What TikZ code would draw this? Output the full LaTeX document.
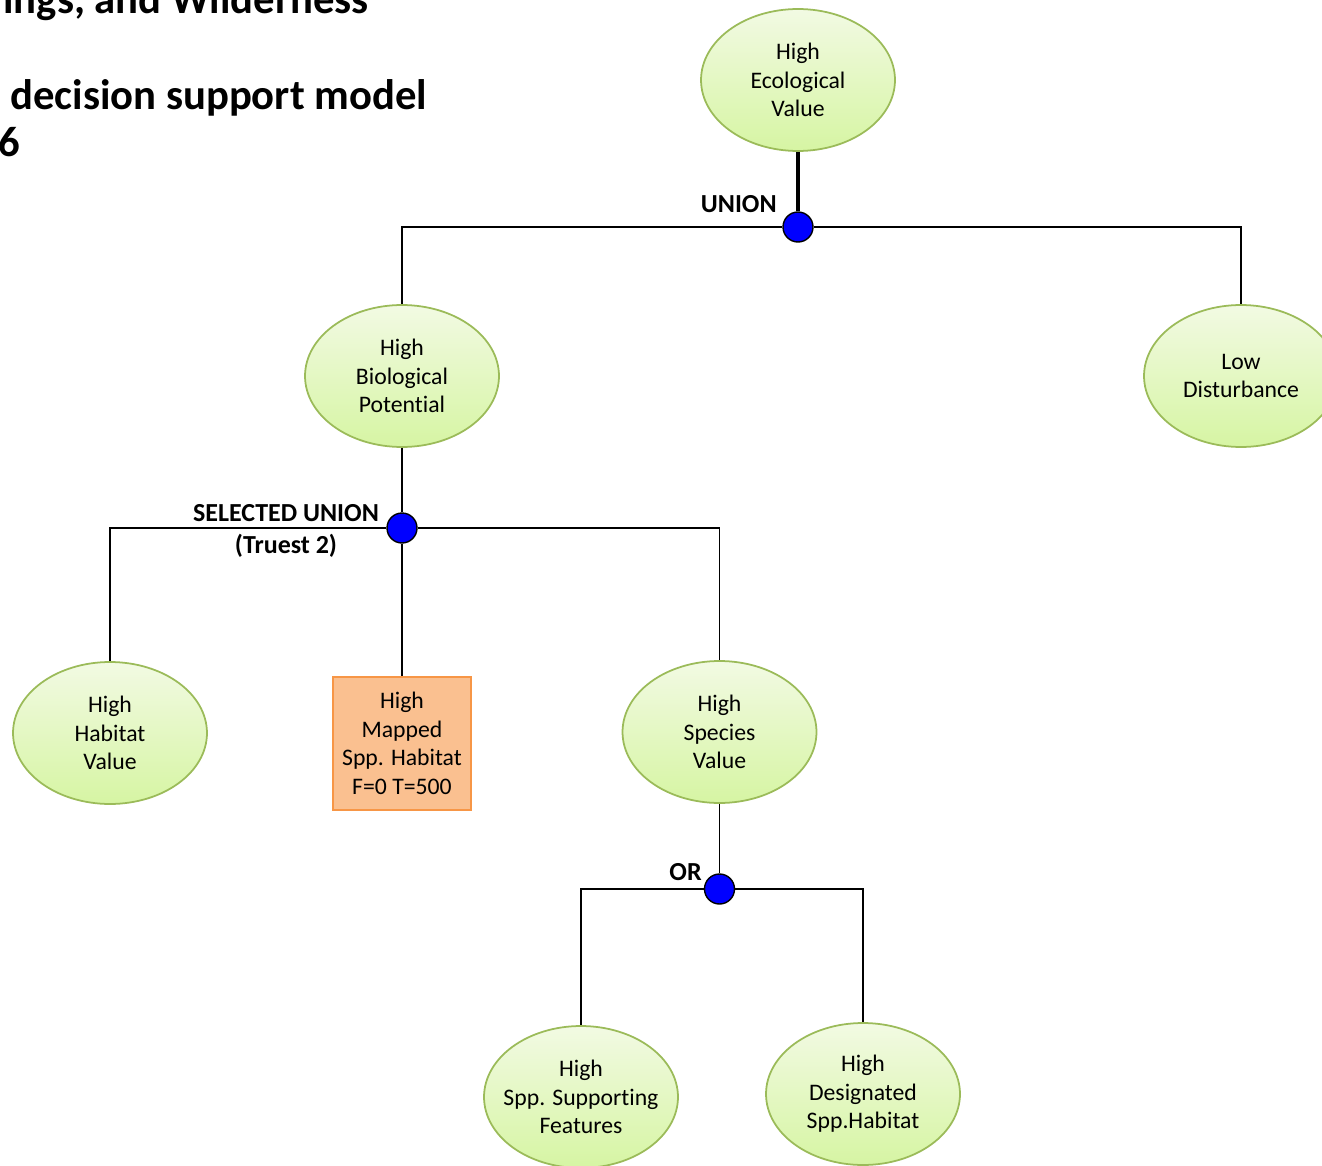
\documentclass[tikz,border=0pt]{standalone}
\usepackage{fontspec}
\setmainfont{Carlito}[Ligatures={NoCommon}]
\usetikzlibrary{shapes.geometric}

\definecolor{leafline}{HTML}{9BBB59}
\definecolor{leaftop}{HTML}{F2FAE3}
\definecolor{leafbottom}{HTML}{D6F5A3}
\definecolor{boxfill}{HTML}{FAC090}
\definecolor{boxline}{HTML}{F79646}

\begin{document}
\begin{tikzpicture}[
        x=0.02cm, y=-0.02cm,
        leaf node/.style={ellipse, draw=leafline, line width=1pt, top color=leaftop, bottom color=leafbottom,
            minimum width=3.88cm, minimum height=2.84cm, inner xsep=-16pt, inner ysep=0pt,
            align=center, font=\fontsize{13.5}{16.3}\selectfont},
        data node/.style={rectangle, draw=boxline, line width=1pt, fill=boxfill,
            minimum width=2.76cm, minimum height=2.66cm, inner sep=0pt,
            align=center, font=\fontsize{13.5}{16.3}\selectfont},
        op node/.style={circle, draw, line width=0.8pt, fill=blue, minimum size=0.6cm, inner sep=0pt},
        op label/.style={font=\bfseries\fontsize{14.8}{18.7}\selectfont, align=center, inner sep=0pt},
        title text/.style={font=\bfseries\fontsize{24.3}{28}\selectfont, inner sep=0pt},
        link/.style={draw, line width=0.9pt},
    ]
    \useasboundingbox (0,0) rectangle (1322,1166);
    \clip (0,0) rectangle (1322,1166);

    % title, cut by the page edge
    \node[title text, anchor=base west] (t1) at (3,14) {ings, and Wilderness};
    \node[title text, anchor=base west] (t2) at (10,110) {decision support model};
    \node[title text, anchor=base east] (t3) at (20,156) {06};

    % goal and first level
    \node[leaf node] (eco) at (798,80) {High\\Ecological\\Value};
    \node[op node] (u1) at (798,227) {};
    \node[op label, anchor=base east] (l1) at (777,213) {UNION};
    \node[leaf node] (bio) at (402,376) {High\\Biological\\Potential};
    \node[leaf node] (low) at (1241,376) {Low\\Disturbance};

    % second level
    \node[op node] (u2) at (402,528) {};
    \node[op label] (l2) at (286,531) {SELECTED UNION\\(Truest 2)};
    \node[leaf node] (hab) at (110,733) {High\\Habitat\\Value};
    \node[data node] (map) at (402,743.5) {High\\Mapped\\Spp. Habitat\\F=0 T=500};
    \node[leaf node] (spe) at (719.5,732) {High\\Species\\Value};

    % third level
    \node[op node] (u3) at (719.5,889) {};
    \node[op label, anchor=base east] (l3) at (702,880) {OR};
    \node[leaf node] (sup) at (581,1097) {High\\Spp. Supporting\\Features};
    \node[leaf node] (des) at (863,1094) {High\\Designated\\Spp.Habitat};

    \path[link, line width=1.8pt] (eco) -- (u1);
    \path[link] (u1) -| (bio);
    \path[link] (u1) -| (low);
    \path[link] (bio) -- (u2);
    \path[link] (u2) -| (hab);
    \path[link] (u2) -- (map);
    \path[link] (u2) -| (spe);
    \path[link] (spe) -- (u3);
    \path[link] (u3) -| (sup);
    \path[link] (u3) -| (des);
\end{tikzpicture}
\end{document}
